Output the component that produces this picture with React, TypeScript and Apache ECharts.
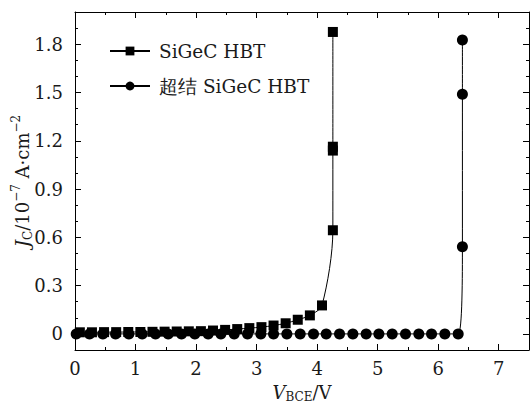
import React, { useEffect, useRef } from "react";
import * as echarts from "echarts";

// SiGeC HBT (squares)
const sqX = [0.08, 0.28, 0.48, 0.68, 0.88, 1.08, 1.28, 1.48, 1.68, 1.88, 2.08, 2.28, 2.48, 2.68, 2.88, 3.08, 3.28, 3.48, 3.68, 3.88, 4.08, 4.26, 4.26, 4.26, 4.26];
const sqY = [0.01, 0.01, 0.011, 0.011, 0.012, 0.012, 0.013, 0.014, 0.015, 0.016, 0.017, 0.021, 0.025, 0.03, 0.036, 0.042, 0.052, 0.066, 0.088, 0.115, 0.177, 0.644, 1.139, 1.163, 1.876];

// 超结 SiGeC HBT (circles)
const ciX = [0.02, 0.24, 0.46, 0.67, 0.89, 1.11, 1.33, 1.54, 1.76, 1.98, 2.2, 2.41, 2.63, 2.85, 3.07, 3.28, 3.5, 3.72, 3.94, 4.15, 4.37, 4.59, 4.81, 5.02, 5.24, 5.46, 5.68, 5.89, 6.11, 6.33, 6.4, 6.4, 6.4];
const ciY = [0, 0, 0, 0, 0, 0, 0, 0, 0, 0, 0, 0, 0, 0, 0, 0, 0, 0, 0, 0, 0, 0, 0, 0, 0, 0, 0, 0, 0, 0, 0.542, 1.489, 1.826];

const seriesNames = ["SiGeC HBT", "超结 SiGeC HBT"];

const xMajor = [0, 1, 2, 3, 4, 5, 6, 7];
const xMinor = [0.5, 1.5, 2.5, 3.5, 4.5, 5.5, 6.5];
const yMajor = [0, 0.3, 0.6, 0.9, 1.2, 1.5, 1.8];
const yMinor = [0.1, 0.2, 0.4, 0.5, 0.7, 0.8, 1.0, 1.1, 1.3, 1.4, 1.6, 1.7, 1.9];

const FONT = "DejaVu Serif";
const TXT = "#1a1a1a";

const makeRich = (lh: number) => ({
  n: { fontFamily: FONT, fontSize: 18, color: TXT, lineHeight: lh, verticalAlign: "middle" as const },
  i: { fontFamily: FONT, fontSize: 18, color: TXT, fontStyle: "italic" as const, lineHeight: lh, verticalAlign: "middle" as const },
  sub: { fontFamily: FONT, fontSize: 12, color: TXT, lineHeight: lh, verticalAlign: "bottom" as const },
  sup: { fontFamily: FONT, fontSize: 12, color: TXT, lineHeight: lh, verticalAlign: "top" as const },
});

export default function App() {
  const ref = useRef<HTMLDivElement>(null);
  useEffect(() => {
    if (!ref.current) return;
    const chart = echarts.init(ref.current, null, { renderer: "svg" });
    const lineAx = { show: true, onZero: false, lineStyle: { color: "#000", width: 1 } };
    const noLine = { show: false, onZero: false };
    const xBase = { type: "value" as const, min: 0, max: 7.5, splitLine: { show: false } };
    const yBase = { type: "value" as const, min: -0.1, max: 2.0, splitLine: { show: false } };
    chart.setOption({
      animation: false,
      backgroundColor: "#fff",
      textStyle: { fontFamily: FONT },
      grid: { left: 75, right: 1, top: 12, bottom: 55, containLabel: false, outerBoundsMode: "none" },
      legend: {
        orient: "vertical",
        left: 104,
        top: 35,
        itemWidth: 40,
        itemHeight: 11,
        itemGap: 13,
        data: seriesNames,
        textStyle: { fontFamily: FONT, fontSize: 18.5, color: TXT, lineHeight: 22, padding: [0, 0, 0, 4] },
      },
      xAxis: [
        {
          ...xBase,
          position: "bottom",
          axisLine: lineAx,
          axisTick: { show: true, inside: true, length: 6, customValues: xMajor, lineStyle: { color: "#000" } },
          axisLabel: { show: true, customValues: xMajor, fontFamily: FONT, fontSize: 18, color: TXT, margin: 9 },
          name: "{i|V}{sub|BCE}{n|/V}",
          nameLocation: "middle",
          nameGap: 31,
          nameMoveOverlap: false,
          nameTextStyle: { rich: makeRich(22) },
        },
        {
          ...xBase,
          position: "bottom",
          axisLine: noLine,
          axisTick: { show: true, inside: true, length: 3, customValues: xMinor, lineStyle: { color: "#000" } },
          axisLabel: { show: false },
        },
        {
          ...xBase,
          position: "top",
          axisLine: lineAx,
          axisTick: { show: true, inside: true, length: 6, customValues: xMajor, lineStyle: { color: "#000" } },
          axisLabel: { show: false },
        },
        {
          ...xBase,
          position: "top",
          axisLine: noLine,
          axisTick: { show: true, inside: true, length: 3, customValues: xMinor, lineStyle: { color: "#000" } },
          axisLabel: { show: false },
        },
      ],
      yAxis: [
        {
          ...yBase,
          position: "left",
          axisLine: lineAx,
          axisTick: { show: true, inside: true, length: 6, customValues: yMajor, lineStyle: { color: "#000" } },
          axisLabel: {
            show: true,
            customValues: yMajor,
            fontFamily: FONT,
            fontSize: 18,
            color: TXT,
            margin: 12,
            formatter: (v: number) => (Math.abs(v) < 1e-9 ? "0" : v.toFixed(1)),
          },
          name: "{i|J}{sub|C}{n|/10}{sup|−7}{n| A·cm}{sup|−2}",
          nameLocation: "middle",
          nameRotate: 90,
          nameGap: 41,
          nameMoveOverlap: false,
          nameTextStyle: { rich: makeRich(24) },
        },
        {
          ...yBase,
          position: "left",
          axisLine: noLine,
          axisTick: { show: true, inside: true, length: 3, customValues: yMinor, lineStyle: { color: "#000" } },
          axisLabel: { show: false },
        },
        {
          ...yBase,
          position: "right",
          axisLine: lineAx,
          axisTick: { show: true, inside: true, length: 6, customValues: yMajor, lineStyle: { color: "#000" } },
          axisLabel: { show: false },
        },
        {
          ...yBase,
          position: "right",
          axisLine: noLine,
          axisTick: { show: true, inside: true, length: 3, customValues: yMinor, lineStyle: { color: "#000" } },
          axisLabel: { show: false },
        },
      ],
      series: [
        {
          name: seriesNames[0],
          type: "line",
          xAxisIndex: 0,
          yAxisIndex: 0,
          data: sqX.map((x, i) => [x, sqY[i]]),
          smooth: 0.3,
          symbol: "rect",
          symbolSize: 10,
          showAllSymbol: true,
          lineStyle: { color: "#000", width: 1 },
          itemStyle: { color: "#000" },
        },
        {
          name: seriesNames[1],
          type: "line",
          xAxisIndex: 0,
          yAxisIndex: 0,
          data: ciX.map((x, i) => [x, ciY[i]]),
          smooth: 0.3,
          symbol: "circle",
          symbolSize: 11,
          showAllSymbol: true,
          lineStyle: { color: "#000", width: 1 },
          itemStyle: { color: "#000" },
        },
      ],
    });
    return () => chart.dispose();
  }, []);
  return <div ref={ref} style={{ position: "fixed", left: 0, top: 0, width: 530, height: 405 }} />;
}
